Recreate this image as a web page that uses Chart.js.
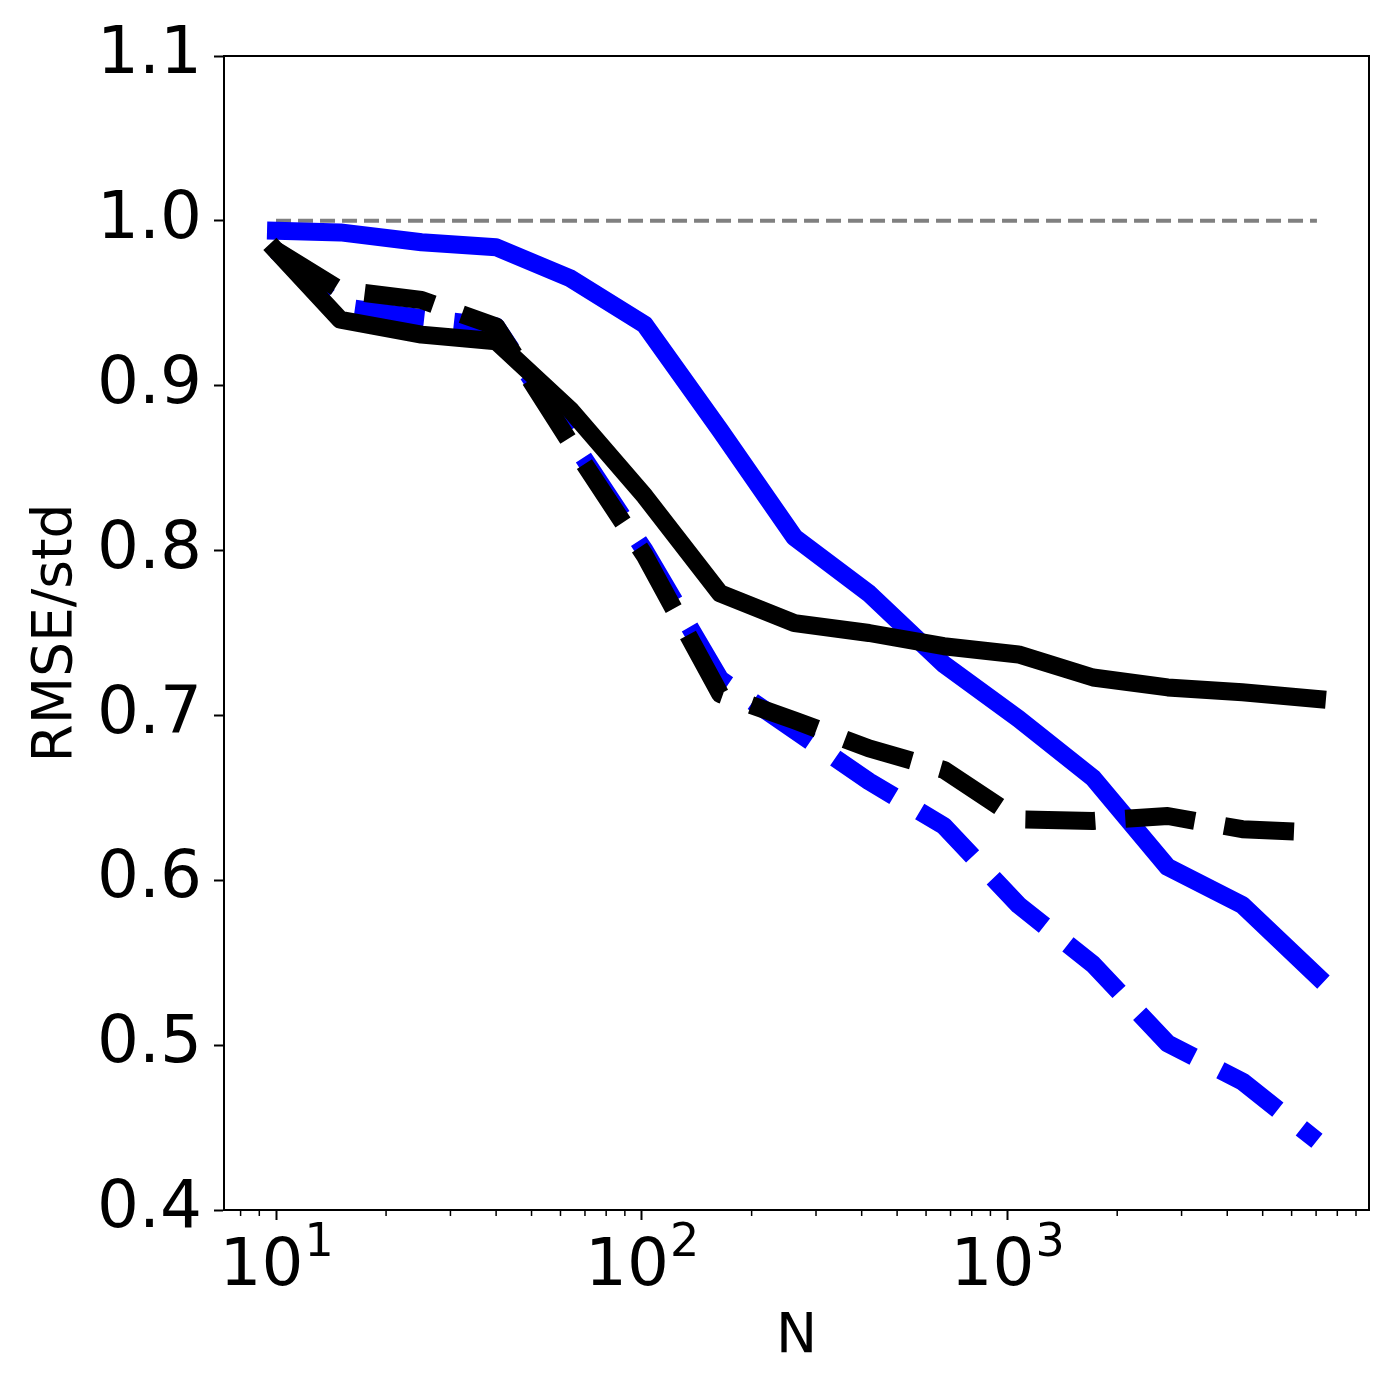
<!DOCTYPE html>
<html>
<head>
<meta charset="utf-8">
<script src="https://cdn.jsdelivr.net/npm/chart.js@4.4.1/dist/chart.umd.min.js"></script>
<style>
  html, body { margin: 0; padding: 0; background: #fff; }
  #chart { display: block; }
</style>
</head>
<body>
<canvas id="chart" width="1400" height="1400"></canvas>
<script>
'use strict';

/* ─── data ─── */
var N_VALUES = [10, 15, 25, 40, 64, 102, 164, 262, 419, 671, 1074, 1718, 2749, 4398, 7037];

var BLUE_SOLID   = [0.994, 0.993, 0.987, 0.984, 0.965, 0.937, 0.873, 0.808, 0.774, 0.731, 0.698, 0.662, 0.608, 0.585, 0.542];
var BLUE_DASHED  = [0.982, 0.948, 0.941, 0.936, 0.868, 0.800, 0.722, 0.691, 0.660, 0.633, 0.585, 0.549, 0.501, 0.478, 0.442];
var BLACK_SOLID  = [0.982, 0.940, 0.931, 0.927, 0.885, 0.833, 0.774, 0.756, 0.750, 0.742, 0.737, 0.723, 0.717, 0.714, 0.710];
var BLACK_DASHED = [0.982, 0.958, 0.952, 0.936, 0.865, 0.797, 0.713, 0.697, 0.680, 0.667, 0.637, 0.636, 0.639, 0.631, 0.629];

var REF_X = [10, 7037];
var REF_Y = [1.0, 1.0];

var X_TICK_VALUES = [10, 100, 1000];
var X_TICK_BASE = '10';
var X_TICK_EXP = ['1', '2', '3'];
var X_MINOR_MULT = [2, 3, 4, 5, 6, 7, 8, 9];
var X_MINOR_DECADES = [1, 10, 100, 1000];

var Y_TICK_VALUES = [0.4, 0.5, 0.6, 0.7, 0.8, 0.9, 1.0, 1.1];

var X_LABEL = 'N';
var Y_LABEL = 'RMSE/std';

var FONT = 'DejaVu Sans';

/* ─── helpers ─── */
function toPoints(xs, ys) {
  var out = [];
  for (var i = 0; i < xs.length; i++) out.push({ x: xs[i], y: ys[i] });
  return out;
}

function lineSet(label, ys, color, dashed, order) {
  return {
    label: label,
    data: toPoints(N_VALUES, ys),
    borderColor: color,
    backgroundColor: color,
    borderWidth: 18,
    borderDash: dashed ? [70, 30] : [],
    borderCapStyle: dashed ? 'butt' : 'square',
    borderJoinStyle: 'round',
    pointRadius: 0,
    tension: 0,
    fill: false,
    order: order
  };
}

/* ─── frame, minor ticks, 10^n labels ─── */
var axisExtras = {
  id: 'axisExtras',
  afterDraw: function (chart) {
    var ctx = chart.ctx;
    var a = chart.chartArea;
    var xs = chart.scales.x;
    ctx.save();

    // minor ticks
    ctx.strokeStyle = '#000';
    ctx.lineWidth = 1.5;
    for (var d = 0; d < X_MINOR_DECADES.length; d++) {
      for (var m = 0; m < X_MINOR_MULT.length; m++) {
        var px = xs.getPixelForValue(X_MINOR_DECADES[d] * X_MINOR_MULT[m]);
        if (px < a.left + 1 || px > a.right - 1) continue;
        ctx.beginPath();
        ctx.moveTo(px, a.bottom);
        ctx.lineTo(px, a.bottom + 6);
        ctx.stroke();
      }
    }

    // frame
    ctx.lineWidth = 2;
    ctx.strokeRect(a.left, a.top, a.right - a.left, a.bottom - a.top);

    // 10^n labels with superscript
    ctx.fillStyle = '#000';
    ctx.textBaseline = 'alphabetic';
    ctx.textAlign = 'left';
    var baseFont = '66px "' + FONT + '"';
    var expFont = '46px "' + FONT + '"';
    var baseY = a.bottom + 75;
    for (var i = 0; i < X_TICK_VALUES.length; i++) {
      var cx = xs.getPixelForValue(X_TICK_VALUES[i]);
      ctx.font = baseFont;
      var wb = ctx.measureText(X_TICK_BASE).width;
      ctx.font = expFont;
      var we = ctx.measureText(X_TICK_EXP[i]).width;
      var x0 = cx - (wb + we) / 2;
      ctx.font = baseFont;
      ctx.fillText(X_TICK_BASE, x0, baseY);
      ctx.font = expFont;
      ctx.fillText(X_TICK_EXP[i], x0 + wb + 1, baseY - 29);
    }
    ctx.restore();
  }
};

new Chart(document.getElementById('chart'), {
  type: 'line',
  data: {
    datasets: [
      {
        label: 'ref',
        data: toPoints(REF_X, REF_Y),
        borderColor: '#808080',
        borderWidth: 4,
        borderDash: [15, 7],
        pointRadius: 0,
        tension: 0,
        fill: false,
        order: 5
      },
      lineSet('blue solid', BLUE_SOLID, '#0000ff', false, 4),
      lineSet('blue dashed', BLUE_DASHED, '#0000ff', true, 3),
      lineSet('black solid', BLACK_SOLID, '#000000', false, 2),
      lineSet('black dashed', BLACK_DASHED, '#000000', true, 1)
    ]
  },
  options: {
    responsive: false,
    animation: false,
    devicePixelRatio: 1,
    layout: { padding: { left: 0, top: 56, right: 31, bottom: 0 } },
    plugins: {
      legend: { display: false },
      tooltip: { enabled: false }
    },
    scales: {
      x: {
        type: 'logarithmic',
        min: 7.206,
        max: 9768,
        afterBuildTicks: function (scale) {
          scale.ticks = X_TICK_VALUES.map(function (v) { return { value: v }; });
        },
        afterFit: function (scale) { scale.height = 190; },
        ticks: {
          autoSkip: false,
          maxRotation: 0,
          font: { family: FONT, size: 66 },
          callback: function () { return ''; }
        },
        grid: { display: true, drawOnChartArea: false, drawTicks: true, tickLength: 10, tickWidth: 2, tickColor: '#000' },
        border: { display: true, color: '#000', width: 2 },
        title: {
          display: true,
          text: X_LABEL,
          color: '#000',
          font: { family: FONT, size: 55 },
          padding: { top: 0, bottom: 29 }
        }
      },
      y: {
        type: 'linear',
        min: 0.4,
        max: 1.1,
        afterBuildTicks: function (scale) {
          scale.ticks = Y_TICK_VALUES.map(function (v) { return { value: v }; });
        },
        afterFit: function (scale) { scale.width = 224; },
        ticks: {
          color: '#000',
          padding: 12,
          font: { family: FONT, size: 66 },
          callback: function (v) { return Number(v).toFixed(1); }
        },
        grid: { display: true, drawOnChartArea: false, drawTicks: true, tickLength: 10, tickWidth: 2, tickColor: '#000' },
        border: { display: true, color: '#000', width: 2 },
        title: {
          display: true,
          text: Y_LABEL,
          color: '#000',
          font: { family: FONT, size: 55 },
          padding: { top: 24, bottom: 0 }
        }
      }
    }
  },
  plugins: [axisExtras]
});
</script>
</body>
</html>
